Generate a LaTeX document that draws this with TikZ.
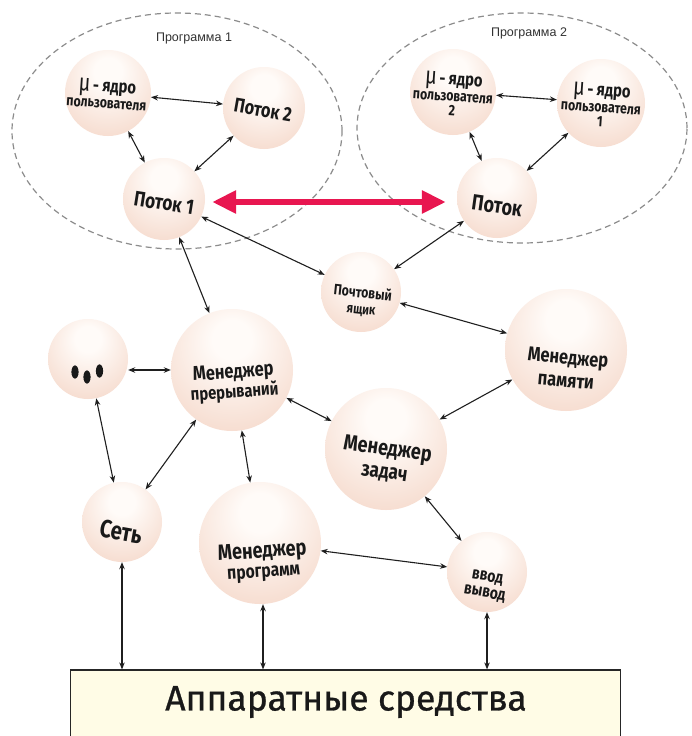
\documentclass[tikz,border=0pt]{standalone}
\usepackage{fontspec}
\setmainfont{Fira Sans}
\newfontfamily\sphfont[FakeStretch=0.82]{Fira Sans}
\newfontfamily\labfont{Liberation Sans}
\newfontfamily\hwfont[FakeBold=0.8]{Fira Sans}
\usetikzlibrary{arrows.meta,shapes.geometric}
\definecolor{sphedge}{RGB}{237,190,170}
\definecolor{sphmid}{RGB}{246,220,207}
\definecolor{sphhi}{RGB}{255,251,248}
\definecolor{hwfill}{RGB}{255,252,230}
\definecolor{redarr}{RGB}{232,22,80}
\definecolor{dashgray}{RGB}{140,140,140}
\pgfdeclareradialshading{sphere}{\pgfpoint{0bp}{14bp}}{color(0bp)=(sphhi); color(8bp)=(sphhi); color(34bp)=(sphmid); color(60bp)=(sphedge); color(72bp)=(sphedge)}
\newcommand{\fs}[1]{\fontsize{#1}{\the\dimexpr#1pt*23/20\relax}\selectfont}
\tikzset{
  sph/.style={circle, shading=sphere, inner sep=0pt, minimum size=#1},
  txt/.style={align=center, font=\sphfont\bfseries\fs{#1}, inner sep=0pt, text=black!90},
  dbl/.style={{Stealth[length=7pt,width=5.5pt]}-{Stealth[length=7pt,width=5.5pt]}, line width=1.1pt, black!88},
  redarrow/.style={{Triangle[length=24pt,width=22pt]}-{Triangle[length=24pt,width=22pt]}, line width=6pt, redarr},
  prog/.style={ellipse, draw=dashgray, dash pattern=on 6pt off 4pt, line width=1.2pt},
  lab/.style={font=\labfont\fs{12.5}, text=black!80, inner sep=0pt},
}
\begin{document}
\begin{tikzpicture}[x=1pt,y=-1pt]
\useasboundingbox (0,0) rectangle (692,736);
\fill[white] (0,0) rectangle (692,736);
% program groups
\node[prog, minimum width=330, minimum height=236] (prog1) at (177,131) {};
\node[prog, minimum width=330, minimum height=230] (prog2) at (522,128) {};
\node[lab] (prog1lab) at (194,38) {Программа 1};
\node[lab] (prog2lab) at (529,33) {Программа 2};
% spheres
\node[sph=86] (mu1) at (108,93) {};
\node[sph=82] (pot2) at (264,108) {};
\node[sph=82] (pot1) at (164,199) {};
\node[sph=86] (mu2) at (453,92) {};
\node[sph=88] (mu1b) at (601,103) {};
\node[sph=80] (pot) at (497,198) {};
\node[sph=80] (box) at (361,292) {};
\node[sph=122] (mpam) at (566,350) {};
\node[sph=122] (mzad) at (386,449) {};
\node[sph=80] (dots) at (88,359) {};
\node[sph=122] (mp) at (232,370) {};
\node[sph=80] (set) at (122,522) {};
\node[sph=122] (mprog) at (260,543) {};
\node[sph=80] (vvod) at (487,572) {};
% hardware
\node[draw=black!85, line width=1.2pt, fill=hwfill, minimum width=550, minimum height=86, inner sep=0pt] (hw) at (345.5,713) {};
\node[font=\hwfont\fs{35.5}, inner sep=0pt, text=black!90] (hwt) at (346,702) {Аппаратные средства};
% texts
\node[txt=15, rotate=-4] (mu1t) at (107,94) {{\fs{24}\mdseries μ}\,{\fs{18}- ядро}\\[-1pt]{\fs{15}пользователя}};
\node[txt=15, rotate=-4] (mu2t) at (453,94) {{\fs{24}\mdseries μ}\,{\fs{18}- ядро}\\[-1pt]{\fs{15}пользователя}\\[-3pt]{\fs{15}2}};
\node[txt=15, rotate=-4] (mu1bt) at (601,105) {{\fs{24}\mdseries μ}\,{\fs{18}- ядро}\\[-1pt]{\fs{15}пользователя}\\[-3pt]{\fs{15}1}};
\node[txt=20, rotate=-10] (pot2t) at (263,110) {Поток 2};
\node[txt=21, rotate=-9] (pot1t) at (164,203) {Поток 1};
\node[txt=22, rotate=-8] (pott) at (497,206) {Поток};
\node[txt=15, rotate=-6] (boxt) at (362,301) {{\fs{15}Почтовый}\\[-1pt]{\fs{14}ящик}};
\node[txt=20, rotate=-5] (mpamt) at (567,369) {{\fs{20}Менеджер}\\{\fs{20}памяти}};
\node[txt=21, rotate=-8] (mzadt) at (386,461) {{\fs{22}Менеджер}\\[-1pt]{\fs{21}задач}};
\node[txt=18, rotate=4] (mpt) at (234,383) {{\fs{20}Менеджер}\\[-1pt]{\fs{18}прерываний}};
\node[txt=25, rotate=-10] (sett) at (121,532) {Сеть};
\node[txt=18, rotate=4] (mprogt) at (263,562) {{\fs{22}Менеджер}\\[-1pt]{\fs{19}программ}};
\node[txt=14, rotate=-10] (vvodt) at (486,586) {{\fs{17}ввод}\\{\fs{17}вывод}};
% dots
\fill[black!90] (75,372) ellipse [x radius=3.6, y radius=6.6];
\fill[black!90] (87,377) ellipse [x radius=3.6, y radius=6.6];
\fill[black!90] (99.5,371) ellipse [x radius=3.6, y radius=6.6];
% connectors
\draw[dbl] (mu1) -- (pot2);
\draw[dbl] (mu1) -- (pot1);
\draw[dbl] (pot2) -- (pot1);
\draw[dbl] (mu2) -- (mu1b);
\draw[dbl] (mu2) -- (pot);
\draw[dbl] (mu1b) -- (pot);
\draw[redarrow, shorten <=7pt, shorten >=11pt] ([yshift=-3pt]pot1.east) -- ([yshift=-3pt]pot1.east -| pot.west);
\draw[dbl] (pot1) -- (box);
\draw[dbl] (pot) -- (box);
\draw[dbl] (pot1) -- (mp);
\draw[dbl] (box) -- (mpam);
\draw[dbl] (mp.west) -- (mp.west -| dots.east);
\draw[dbl] (dots) -- (set);
\draw[dbl] (mp) -- (set);
\draw[dbl] (mp) -- (mprog);
\draw[dbl] (mp) -- (mzad);
\draw[dbl] (mzad) -- (mpam);
\draw[dbl] (mzad) -- (vvod);
\draw[dbl] (mprog) -- (vvod);
\draw[dbl] (set) -- (set |- hw.north);
\draw[dbl] ([xshift=3pt]mprog.south) -- ([xshift=3pt]mprog.south |- hw.north);
\draw[dbl] (vvod) -- (vvod |- hw.north);
\end{tikzpicture}
\end{document}
